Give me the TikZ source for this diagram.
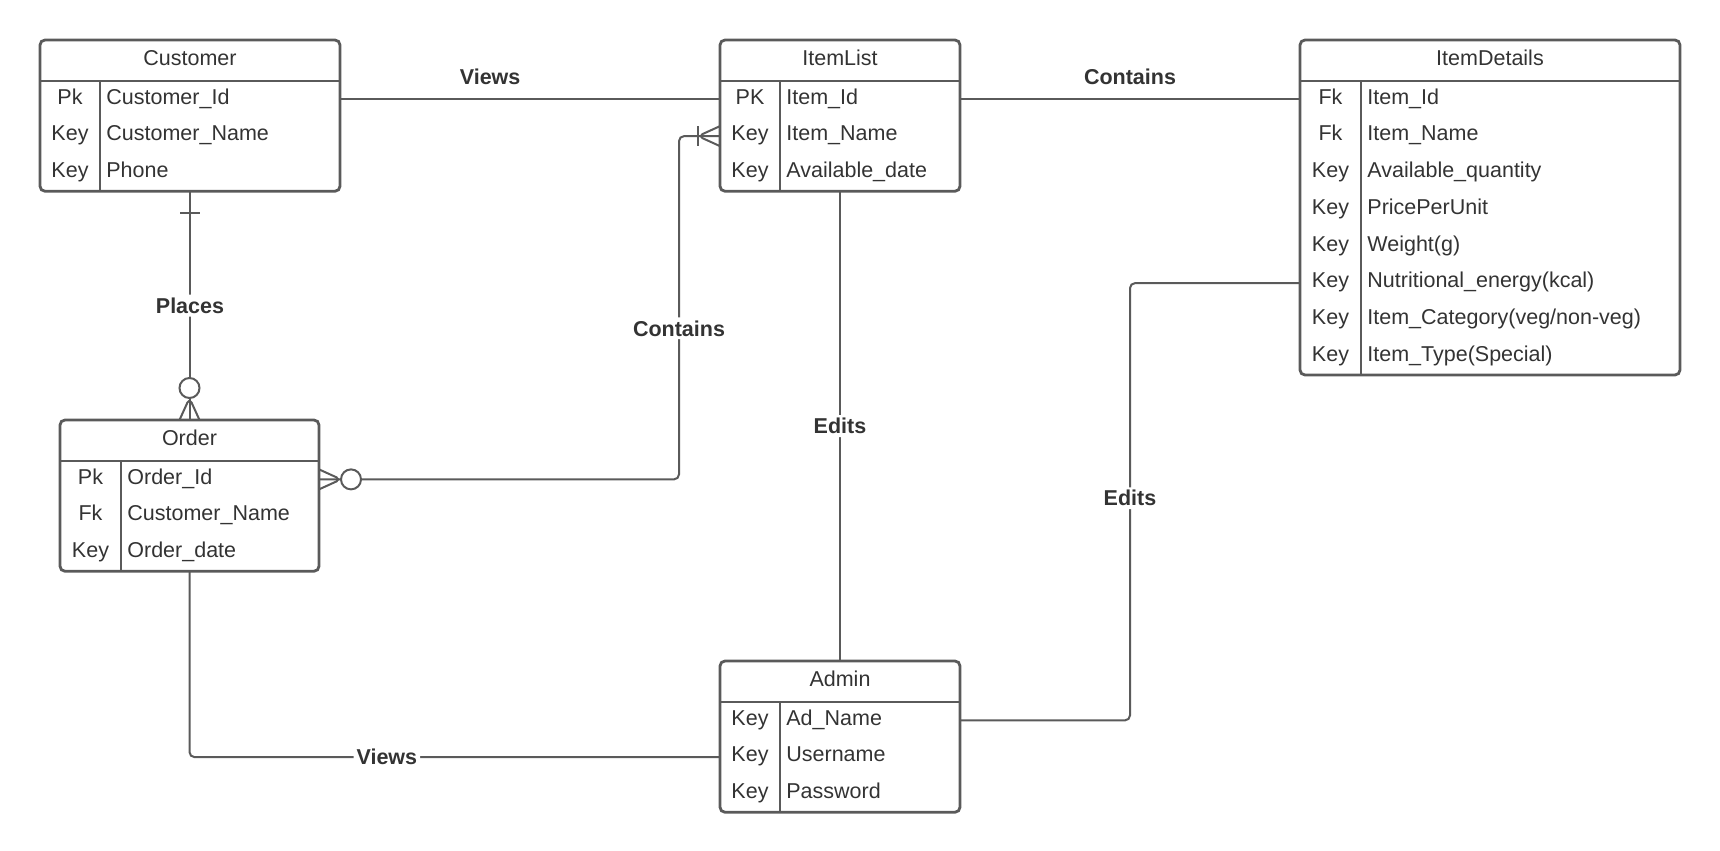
\documentclass[tikz,border=0pt]{standalone}
\usepackage{fontspec}
\setmainfont{Liberation Sans}
\usetikzlibrary{calc}
\definecolor{linegray}{RGB}{90,90,90}
\definecolor{textgray}{RGB}{51,51,51}

\begin{document}
\begin{tikzpicture}[
        x=0.5pt,
        y=-0.5pt,
        font=\fontsize{10.75}{13}\selectfont,
        text=textgray,
        entity/.style={
            draw=linegray,
            line width=1.4pt,
            rounded corners=2.5pt,
            outer sep=0pt,
            inner sep=0pt,
            anchor=north west
        },
        rule/.style={
            draw=linegray,
            line width=1.4pt
        },
        title/.style={
            inner sep=0pt
        },
        keycell/.style={
            inner sep=0pt,
            text height=7.7pt,
            text depth=3pt
        },
        fieldcell/.style={
            keycell,
            anchor=west
        },
        link/.style={
            draw=linegray,
            line width=1pt,
            rounded corners=2.5pt
        },
        relname/.style={
            font=\fontsize{10.75}{13}\selectfont\bfseries,
            inner sep=1.5pt
        },
        onlink/.style={
            relname,
            fill=white
        }
    ]

        \useasboundingbox (0,0) rectangle (1720,851);

        % Customer
        \node[entity, minimum width=150pt, minimum height=75.625pt] (customer) at (40,40) {};
        \node[title] (customer-title) at ($(customer.north)+(0,18)$) {Customer};
        \draw[rule] ($(customer.north west)+(0,41)$) -- ($(customer.north east)+(0,41)$);
        \draw[rule] ($(customer.north west)+(60,41)$) -- ($(customer.south west)+(60,0)$);
        \foreach \k/\f [count=\i] in {Pk/Customer\_Id, Key/Customer\_Name, Key/Phone}
            {
            \node[keycell] (customer-k\i) at ($(customer.north west)+(30,41+36.75*\i-18.375)$) {\k};
            \node[fieldcell] (customer-f\i) at ($(customer.north west)+(66,41+36.75*\i-18.375)$) {\f};
            }

        % ItemList
        \node[entity, minimum width=120pt, minimum height=75.625pt] (itemlist) at (720,40) {};
        \node[title] (itemlist-title) at ($(itemlist.north)+(0,18)$) {ItemList};
        \draw[rule] ($(itemlist.north west)+(0,41)$) -- ($(itemlist.north east)+(0,41)$);
        \draw[rule] ($(itemlist.north west)+(60,41)$) -- ($(itemlist.south west)+(60,0)$);
        \foreach \k/\f [count=\i] in {PK/Item\_Id, Key/Item\_Name, Key/Available\_date}
            {
            \node[keycell] (itemlist-k\i) at ($(itemlist.north west)+(30,41+36.75*\i-18.375)$) {\k};
            \node[fieldcell] (itemlist-f\i) at ($(itemlist.north west)+(66,41+36.75*\i-18.375)$) {\f};
            }

        % ItemDetails
        \node[entity, minimum width=190pt, minimum height=167.5pt] (itemdetails) at (1300,40) {};
        \node[title] (itemdetails-title) at ($(itemdetails.north)+(0,18)$) {ItemDetails};
        \draw[rule] ($(itemdetails.north west)+(0,41)$) -- ($(itemdetails.north east)+(0,41)$);
        \draw[rule] ($(itemdetails.north west)+(61,41)$) -- ($(itemdetails.south west)+(61,0)$);
        \foreach \k/\f [count=\i] in {Fk/Item\_Id, Fk/Item\_Name, Key/Available\_quantity,
                Key/PricePerUnit, Key/Weight(g), Key/Nutritional\_energy(kcal),
                Key/Item\_Category(veg{/}non-veg), Key/Item\_Type(Special)}
            {
            \node[keycell] (itemdetails-k\i) at ($(itemdetails.north west)+(30.5,41+36.75*\i-18.375)$) {\k};
            \node[fieldcell] (itemdetails-f\i) at ($(itemdetails.north west)+(67,41+36.75*\i-18.375)$) {\f};
            }

        % Order
        \node[entity, minimum width=129.5pt, minimum height=75.625pt] (order) at (60,420) {};
        \node[title] (order-title) at ($(order.north)+(0,18)$) {Order};
        \draw[rule] ($(order.north west)+(0,41)$) -- ($(order.north east)+(0,41)$);
        \draw[rule] ($(order.north west)+(61,41)$) -- ($(order.south west)+(61,0)$);
        \foreach \k/\f [count=\i] in {Pk/Order\_Id, Fk/Customer\_Name, Key/Order\_date}
            {
            \node[keycell] (order-k\i) at ($(order.north west)+(30.5,41+36.75*\i-18.375)$) {\k};
            \node[fieldcell] (order-f\i) at ($(order.north west)+(67,41+36.75*\i-18.375)$) {\f};
            }

        % Admin
        \node[entity, minimum width=120pt, minimum height=75.625pt] (admin) at (720,661) {};
        \node[title] (admin-title) at ($(admin.north)+(0,18)$) {Admin};
        \draw[rule] ($(admin.north west)+(0,41)$) -- ($(admin.north east)+(0,41)$);
        \draw[rule] ($(admin.north west)+(60,41)$) -- ($(admin.south west)+(60,0)$);
        \foreach \k/\f [count=\i] in {Key/Ad\_Name, Key/Username, Key/Password}
            {
            \node[keycell] (admin-k\i) at ($(admin.north west)+(30,41+36.75*\i-18.375)$) {\k};
            \node[fieldcell] (admin-f\i) at ($(admin.north west)+(66,41+36.75*\i-18.375)$) {\f};
            }

        % Customer views ItemList
        \draw[link] (customer.east |- customer-f1)
            -- node[relname, above=5.5pt, pos=0.395]{Views}
            (itemlist.west |- itemlist-f1);

        % ItemList contains ItemDetails
        \draw[link] (itemlist.east |- itemlist-f1)
            -- node[relname, above=5.5pt]{Contains}
            (itemdetails.west |- itemdetails-f1);

        % Customer places Order
        \draw[link] (customer.south)
            -- node[onlink]{Places}
            (customer.south |- order.north);
        \draw[link] ($(customer.south)+(-10,22)$) -- ($(customer.south)+(10,22)$);
        \draw[link] ($(order.north)+(-10,0)$) -- ($(order.north)+(0,-22)$) -- ($(order.north)+(10,0)$);
        \draw[link, fill=white] ($(order.north)+(0,-32)$) circle (5pt);

        % Order contains ItemList
        \coordinate (contains-bend) at ($(itemlist.west |- itemlist-f2)+(-41,0)$);
        \draw[link] (order.east |- order-f1)
            -| node[onlink, pos=0.72]{Contains}
            (contains-bend) -- (itemlist.west |- itemlist-f2);
        \draw[link] ($(order.east |- order-f1)+(0,-10)$) -- ($(order.east |- order-f1)+(22,0)$)
            -- ($(order.east |- order-f1)+(0,10)$);
        \draw[link, fill=white] ($(order.east |- order-f1)+(32,0)$) circle (5pt);
        \draw[link] ($(itemlist.west |- itemlist-f2)+(0,-10)$) -- ($(itemlist.west |- itemlist-f2)+(-22,0)$)
            -- ($(itemlist.west |- itemlist-f2)+(0,10)$);
        \draw[link] ($(itemlist.west |- itemlist-f2)+(-22,-10)$) -- ($(itemlist.west |- itemlist-f2)+(-22,10)$);

        % Admin edits ItemList
        \draw[link] (itemlist.south)
            -- node[onlink]{Edits}
            (admin.north);

        % Order views Admin
        \draw[link] (order.south)
            |- node[onlink, pos=0.686]{Views}
            (admin.west |- admin-f2);

        % Admin edits ItemDetails
        \coordinate (edits-bend) at ($(itemdetails.west |- itemdetails-f6)+(-170,0)$);
        \draw[link] (admin.east |- admin-f1)
            -| node[onlink, pos=0.754]{Edits}
            (edits-bend) -- (itemdetails.west |- itemdetails-f6);

    \end{tikzpicture}
\end{document}
